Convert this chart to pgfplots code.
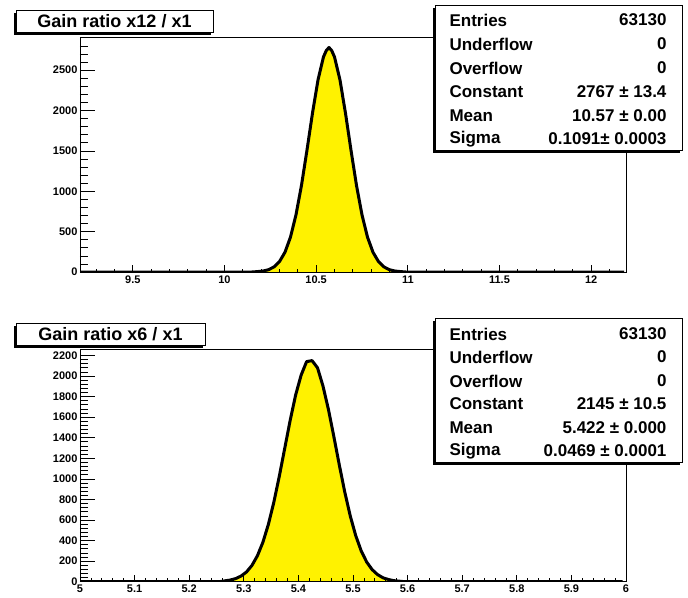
\documentclass[border=0pt]{standalone}
\usepackage{pgfplots}
\pgfplotsset{compat=1.18}
\usepackage{fontspec}
\setmainfont{Liberation Sans}

\pgfplotsset{
  rootframe/.style={
    scale only axis, width=546pt, anchor=south west,
    axis line style={line width=0.8pt},
    tick align=inside,
    tick style={black, line width=0.7pt},
    ticklabel style={font=\bfseries\fontsize{11}{12}\selectfont},
    /pgf/number format/assume math mode=true,
    /pgf/number format/1000 sep={},
    scaled ticks=false,
    xtick pos=left, ytick pos=left,
  },
  xpart/.style={rootframe, ytick=\empty, axis on top,
    major tick length=7pt, minor tick length=3.5pt,
    xticklabel style={yshift=0pt}},
  ypart/.style={rootframe, xtick=\empty, axis line style={draw=none},
    major tick length=15pt, minor tick length=8pt,
    yticklabel style={xshift=1pt}},
  histfill/.style={fill=yellow, draw=none},
  histline/.style={black, line width=3pt, line join=round},
}

\newcommand\statrow[3]{%
  \node[anchor=west, font=\bfseries\fontsize{17}{18}\selectfont] at (446pt,#1) {#2};
  \node[anchor=east, font=\bfseries\fontsize{17}{18}\selectfont] at (670pt,#1) {#3};}
\newcommand\titlebox[4]{% left, top, right, bottom
  \fill[black] (#1-2.5pt,#2-2.5pt) rectangle (#3-2.5pt,#4-2.5pt);
  \draw[fill=white, line width=0.8pt] (#1,#2) rectangle (#3,#4);}

\begin{document}
\begin{tikzpicture}
\useasboundingbox (0,0) rectangle (688pt,-597pt);

% ---- top panel: x12 / x1
\begin{axis}[xpart, at={(80pt,-272pt)}, height=235pt,
  xmin=9.212, xmax=12.19, ymin=0, ymax=2910,
  xtick={9.5,10,10.5,11,11.5,12},
  minor xtick={9.3,9.4,9.6,9.7,9.8,9.9,10.1,10.2,10.3,10.4,10.6,10.7,10.8,10.9,11.1,11.2,11.3,11.4,11.6,11.7,11.8,11.9,12.1}]
\addplot[histfill] coordinates {
 (9.212,0) (10.15,0) (10.18,5) (10.21,12) (10.24,28) (10.27,63) (10.30,129)
 (10.33,245) (10.36,432) (10.39,708) (10.42,1073) (10.45,1509)
 (10.48,1967) (10.51,2378) (10.54,2664) (10.555,2741) (10.57,2780) (10.585,2741)
 (10.60,2664) (10.63,2378) (10.66,1967) (10.69,1509) (10.72,1073) (10.75,708)
 (10.78,432) (10.81,245) (10.84,129) (10.87,63) (10.90,28)
 (10.93,12) (10.96,5) (10.99,0) (12.18,0)} \closedcycle;
\addplot[histline] coordinates {
 (9.212,0) (10.15,0) (10.18,5) (10.21,12) (10.24,28) (10.27,63) (10.30,129)
 (10.33,245) (10.36,432) (10.39,708) (10.42,1073) (10.45,1509)
 (10.48,1967) (10.51,2378) (10.54,2664) (10.555,2741) (10.57,2780) (10.585,2741)
 (10.60,2664) (10.63,2378) (10.66,1967) (10.69,1509) (10.72,1073) (10.75,708)
 (10.78,432) (10.81,245) (10.84,129) (10.87,63) (10.90,28)
 (10.93,12) (10.96,5) (10.99,0) (12.18,0)};
\end{axis}
\begin{axis}[ypart, at={(80pt,-272pt)}, height=235pt,
  xmin=9.212, xmax=12.19, ymin=0, ymax=2910,
  ytick={0,500,1000,1500,2000,2500},
  minor ytick={100,200,300,400,600,700,800,900,1100,1200,1300,1400,1600,1700,1800,1900,2100,2200,2300,2400,2600,2700,2800,2900}]
\end{axis}

% ---- bottom panel: x6 / x1
\begin{axis}[xpart, at={(80pt,-581.7pt)}, height=232pt,
  xmin=5, xmax=6, ymin=0, ymax=2256,
  xtick={5,5.1,5.2,5.3,5.4,5.5,5.6,5.7,5.8,5.9,6},
  minor x tick num=4]
\addplot[histfill] coordinates {
 (5,0) (5.255,0) (5.265,8) (5.275,16) (5.285,30) (5.295,55) (5.305,95) (5.315,159)
 (5.325,253) (5.335,384) (5.345,557) (5.355,773) (5.365,1025) (5.375,1298)
 (5.385,1571) (5.395,1817) (5.405,2009) (5.415,2140) (5.425,2150) (5.435,2080)
 (5.445,1903) (5.455,1675) (5.465,1409) (5.475,1133) (5.485,870) (5.495,639)
 (5.505,448) (5.515,300) (5.525,192) (5.535,118) (5.545,69) (5.555,38)
 (5.565,21) (5.575,10) (5.585,5) (5.595,0) (5.994,0)} \closedcycle;
\addplot[histline] coordinates {
 (5,0) (5.255,0) (5.265,8) (5.275,16) (5.285,30) (5.295,55) (5.305,95) (5.315,159)
 (5.325,253) (5.335,384) (5.345,557) (5.355,773) (5.365,1025) (5.375,1298)
 (5.385,1571) (5.395,1817) (5.405,2009) (5.415,2140) (5.425,2150) (5.435,2080)
 (5.445,1903) (5.455,1675) (5.465,1409) (5.475,1133) (5.485,870) (5.495,639)
 (5.505,448) (5.515,300) (5.525,192) (5.535,118) (5.545,69) (5.555,38)
 (5.565,21) (5.575,10) (5.585,5) (5.595,0) (5.994,0)};
\end{axis}
\begin{axis}[ypart, at={(80pt,-581.7pt)}, height=232pt,
  xmin=5, xmax=6, ymin=0, ymax=2256,
  ytick={0,200,...,2200}, minor y tick num=4]
\end{axis}

% ---- title boxes
\titlebox{16pt}{-10pt}{213pt}{-32pt}
\node[font=\bfseries\fontsize{18}{20}\selectfont] at (114.5pt,-21pt) {Gain ratio x12 / x1};
\titlebox{16pt}{-323pt}{205pt}{-345pt}
\node[font=\bfseries\fontsize{18}{20}\selectfont] at (110.5pt,-334pt) {Gain ratio x6 / x1};

% ---- statistics boxes
\titlebox{435pt}{-5pt}{682pt}{-150pt}
\statrow{-20pt}{Entries}{63130}
\statrow{-44pt}{Underflow}{0}
\statrow{-68pt}{Overflow}{0}
\statrow{-92pt}{Constant}{2767 ± 13.4}
\statrow{-116pt}{Mean}{10.57 ± 0.00}
\statrow{-139pt}{Sigma}{0.1091± 0.0003}

\titlebox{435pt}{-318pt}{682pt}{-462pt}
\statrow{-334pt}{Entries}{63130}
\statrow{-357pt}{Underflow}{0}
\statrow{-381pt}{Overflow}{0}
\statrow{-404pt}{Constant}{2145 ± 10.5}
\statrow{-428pt}{Mean}{5.422 ± 0.000}
\statrow{-451pt}{Sigma}{0.0469 ± 0.0001}
\end{tikzpicture}
\end{document}
